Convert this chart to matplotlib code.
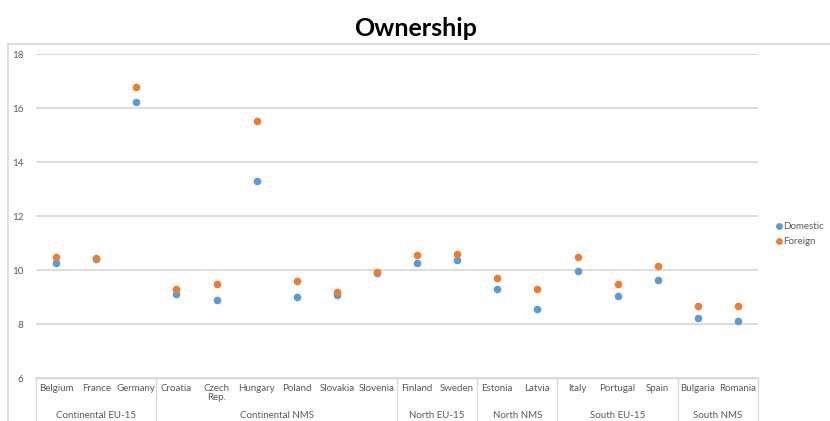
import matplotlib.pyplot as plt
import matplotlib.transforms as mtransforms
import numpy as np

countries = ['Belgium', 'France', 'Germany',
             'Croatia', 'Czech\nRep.', 'Hungary', 'Poland', 'Slovakia', 'Slovenia',
             'Finland', 'Sweden',
             'Estonia', 'Latvia',
             'Italy', 'Portugal', 'Spain',
             'Bulgaria', 'Romania']
groups = ['Continental EU-15', 'Continental NMS', 'North EU-15', 'North NMS',
          'South EU-15', 'South NMS']
group_sizes = [3, 6, 2, 2, 3, 2]

domestic = [10.27, 10.40, 16.23,
            9.12, 8.88, 13.30, 9.01, 9.06, 9.89,
            10.26, 10.37,
            9.28, 8.57,
            9.96, 9.04, 9.63,
            8.21, 8.11]
foreign = [10.49, 10.43, 16.79,
           9.31, 9.47, 15.53, 9.58, 9.17, 9.94,
           10.56, 10.60,
           9.69, 9.28,
           10.49, 9.47, 10.15,
           8.67, 8.66]

plt.rcParams['font.family'] = ['Lato', 'DejaVu Sans']
grey_txt = '#595959'
grid_col = '#d9d9d9'

fig = plt.figure(figsize=(8.3, 4.21), dpi=100)
ax = fig.add_axes([36 / 830, 43 / 421, 722 / 830, 324 / 421])

x = np.arange(len(countries))
ax.plot(x, domestic, 'o', ms=5.5, color='#5B9BD5', mec='none', label='Domestic')
ax.plot(x, foreign, 'o', ms=5.5, color='#ED7D31', mec='none', label='Foreign')

ax.set_xlim(-0.5, len(countries) - 0.5)
ax.set_ylim(6, 18)
ax.set_yticks(np.arange(6, 19, 2))
ax.yaxis.grid(True, color=grid_col, lw=1.3)
ax.set_axisbelow(True)
ax.tick_params(axis='y', length=0, pad=9, labelsize=7, labelcolor=grey_txt)
ax.set_xticks([])
for s in ['top', 'right', 'left']:
    ax.spines[s].set_visible(False)
ax.spines['bottom'].set_color(grid_col)
ax.spines['bottom'].set_linewidth(1.0)

# two-level category axis underneath
trans = mtransforms.blended_transform_factory(ax.transData, ax.transAxes)
px = 1 / 324
for i, name in enumerate(countries):
    ax.text(i, -6 * px, name, transform=trans, ha='center', va='top',
            fontsize=7, color=grey_txt, linespacing=1.0)

edges = np.concatenate([[0], np.cumsum(group_sizes)]) - 0.5
for k, g in enumerate(groups):
    mid = (edges[k] + edges[k + 1]) / 2
    ax.text(mid, -37 * px, g, transform=trans, ha='center', va='center',
            fontsize=7, color=grey_txt)
for e in edges:
    ax.plot([e, e], [0, -45 * px], transform=trans, color=grid_col,
            lw=1.0, clip_on=False)

ax.legend(loc='center left', bbox_to_anchor=(767 / 830, 1 - 234 / 421),
          bbox_transform=fig.transFigure, frameon=False, fontsize=7,
          handlelength=0.6, handletextpad=0.2, labelspacing=0.6,
          labelcolor=grey_txt, markerscale=0.9)

# chart frame
fig.add_artist(plt.Line2D([8 / 830, 8 / 830], [0, 1 - 44 / 421],
                          transform=fig.transFigure, color=grid_col, lw=1.2))
fig.add_artist(plt.Line2D([8 / 830, 1], [1 - 44 / 421, 1 - 44 / 421],
                          transform=fig.transFigure, color=grid_col, lw=1.2))

fig.text(416 / 830, 1 - 36 / 421, 'Ownership', ha='center', va='baseline',
         fontsize=18, fontweight='bold', color='black')

fig.savefig('out.png', dpi=100)
